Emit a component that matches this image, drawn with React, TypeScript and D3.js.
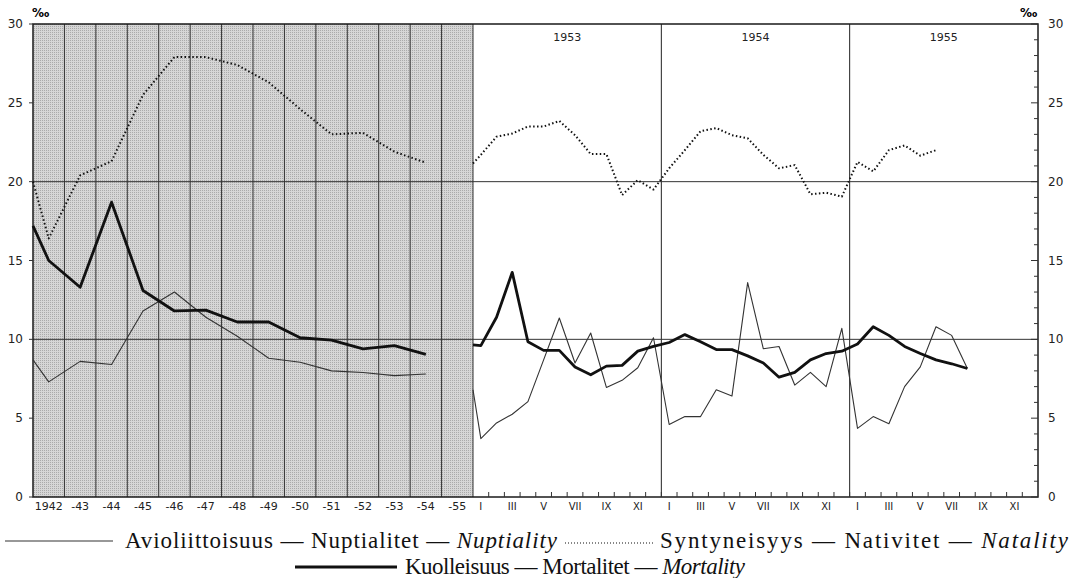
import { useEffect, useRef } from "react";
import * as d3 from "d3";

// annual panel: 1942 .. -55 (one band per year)
const yearLabels = ["1942", "-43", "-44", "-45", "-46", "-47", "-48", "-49", "-50", "-51", "-52", "-53", "-54", "-55"];
// first value of each series = where the curve leaves the left axis
const annualNuptiality = [8.7, 7.3, 8.6, 8.4, 11.8, 13.0, 11.4, 10.2, 8.8, 8.55, 8.0, 7.9, 7.7, 7.8];
const annualNatality = [20.0, 16.4, 20.4, 21.3, 25.5, 27.9, 27.9, 27.4, 26.3, 24.6, 23.0, 23.1, 21.9, 21.2];
const annualMortality = [17.2, 15.0, 13.3, 18.7, 13.1, 11.8, 11.85, 11.1, 11.1, 10.1, 9.95, 9.4, 9.6, 9.05];

// monthly panel: 1953 I .. 1955
const panelYears = ["1953", "1954", "1955"];
const monthLabels = ["I", "II", "III", "IV", "V", "VI", "VII", "VIII", "IX", "X", "XI", "XII"];
// first value = value at the panel edge
const monthlyNuptiality = [
  6.8,
  3.7, 4.7, 5.25, 6.05, 8.7, 11.35, 8.5, 10.4, 6.95, 7.4, 8.2, 10.1,
  4.6, 5.1, 5.1, 6.8, 6.4, 13.6, 9.4, 9.55, 7.1, 7.9, 7.0, 10.7,
  4.35, 5.1, 4.65, 7.0, 8.25, 10.8, 10.25, 8.15,
];
const monthlyNatality = [
  21.15,
  21.7, 22.85, 23.05, 23.5, 23.5, 23.85, 22.95, 21.75, 21.75, 19.15, 20.1, 19.5,
  20.85, 22.0, 23.2, 23.4, 22.95, 22.75, 21.7, 20.85, 21.05, 19.2, 19.3, 19.05,
  21.25, 20.65, 22.0, 22.3, 21.65, 22.0,
];
const monthlyMortality = [
  9.65,
  9.6, 11.4, 14.25, 9.85, 9.3, 9.3, 8.25, 7.75, 8.3, 8.35, 9.25, 9.55,
  9.8, 10.3, 9.85, 9.35, 9.35, 8.95, 8.5, 7.6, 7.9, 8.7, 9.1, 9.25,
  9.7, 10.8, 10.25, 9.55, 9.1, 8.7, 8.45, 8.15,
];

const yTicks = [0, 5, 10, 15, 20, 25, 30];

const App = () => {
  const ref = useRef<SVGSVGElement>(null);
  const width = 1074;
  const height = 578;
  const left = 33;
  const split = 473;
  const right = 1038;
  const top = 24;
  const bottom = 497;

  useEffect(() => {
    const svg = d3.select(ref.current);
    svg.selectAll("*").remove();

    const y = d3.scaleLinear().domain([0, 30]).range([bottom, top]);
    const xYear = d3.scaleLinear().domain([0, yearLabels.length]).range([left, split]);
    const xMonth = d3.scaleLinear().domain([0, panelYears.length * 12]).range([split, right]);

    const defs = svg.append("defs");
    const pat = defs
      .append("pattern")
      .attr("id", "halftone")
      .attr("width", 2)
      .attr("height", 2)
      .attr("patternUnits", "userSpaceOnUse");
    pat.append("rect").attr("width", 2).attr("height", 2).attr("fill", "#d6d6d6");
    pat.append("rect").attr("width", 1).attr("height", 1).attr("fill", "#aaaaaa");

    svg.append("rect").attr("width", width).attr("height", height).attr("fill", "#fff");

    // shaded annual panel
    svg
      .append("rect")
      .attr("x", left)
      .attr("y", top)
      .attr("width", split - left)
      .attr("height", bottom - top)
      .attr("fill", "url(#halftone)");

    // year separators in annual panel
    svg
      .selectAll("yearLine")
      .data(d3.range(1, yearLabels.length + 1))
      .enter()
      .append("line")
      .attr("x1", (d) => xYear(d))
      .attr("x2", (d) => xYear(d))
      .attr("y1", top)
      .attr("y2", bottom)
      .attr("stroke", "#333")
      .attr("stroke-width", 1);

    // year separators in monthly panel
    svg
      .selectAll("panelLine")
      .data([12, 24])
      .enter()
      .append("line")
      .attr("x1", (d) => xMonth(d))
      .attr("x2", (d) => xMonth(d))
      .attr("y1", top)
      .attr("y2", bottom)
      .attr("stroke", "#222")
      .attr("stroke-width", 1);

    // horizontal reference lines
    svg
      .selectAll("hLine")
      .data([10, 20])
      .enter()
      .append("line")
      .attr("x1", left)
      .attr("x2", right)
      .attr("y1", (d) => y(d))
      .attr("y2", (d) => y(d))
      .attr("stroke", "#333")
      .attr("stroke-width", 1);

    // frame
    svg
      .append("rect")
      .attr("x", left)
      .attr("y", top)
      .attr("width", right - left)
      .attr("height", bottom - top)
      .attr("fill", "none")
      .attr("stroke", "#1a1a1a")
      .attr("stroke-width", 1.5);

    const axisFont = "'DejaVu Sans', sans-serif";

    // left axis
    svg
      .selectAll("lTick")
      .data(yTicks)
      .enter()
      .append("line")
      .attr("x1", left - 4)
      .attr("x2", left)
      .attr("y1", (d) => y(d))
      .attr("y2", (d) => y(d))
      .attr("stroke", "#333");
    svg
      .selectAll("lLabel")
      .data(yTicks)
      .enter()
      .append("text")
      .attr("x", 23)
      .attr("y", (d) => y(d) + 4)
      .attr("text-anchor", "end")
      .style("font-family", axisFont)
      .style("font-size", "12px")
      .attr("fill", "#222")
      .text((d) => d);

    // right axis, minor ticks every unit
    svg
      .selectAll("rTick")
      .data(d3.range(0, 31))
      .enter()
      .append("line")
      .attr("x1", (d) => (d % 5 === 0 ? right - 7 : right - 4))
      .attr("x2", right)
      .attr("y1", (d) => y(d))
      .attr("y2", (d) => y(d))
      .attr("stroke", "#333");
    svg
      .selectAll("rLabel")
      .data(yTicks)
      .enter()
      .append("text")
      .attr("x", 1048)
      .attr("y", (d) => y(d) + 4)
      .style("font-family", axisFont)
      .style("font-size", "12px")
      .attr("fill", "#222")
      .text((d) => d);

    // per mille signs
    svg
      .append("text")
      .attr("x", 32)
      .attr("y", 17)
      .style("font-family", axisFont)
      .style("font-size", "12px")
      .style("font-weight", "bold")
      .text("‰");
    svg
      .append("text")
      .attr("x", 1020)
      .attr("y", 17)
      .style("font-family", axisFont)
      .style("font-size", "12px")
      .style("font-weight", "bold")
      .text("‰");

    // year labels under annual panel
    svg
      .selectAll("yLabel")
      .data(yearLabels)
      .enter()
      .append("text")
      .attr("x", (d, i) => xYear(i + 0.5))
      .attr("y", 510)
      .attr("text-anchor", "middle")
      .style("font-family", axisFont)
      .style("font-size", "11px")
      .attr("fill", "#222")
      .text((d) => d);

    // month ticks and labels
    svg
      .selectAll("mTick")
      .data(d3.range(1, panelYears.length * 12))
      .enter()
      .append("line")
      .attr("x1", (d) => xMonth(d))
      .attr("x2", (d) => xMonth(d))
      .attr("y1", bottom)
      .attr("y2", bottom - 5)
      .attr("stroke", "#333");
    const months = d3.range(panelYears.length * 12).filter((i) => i % 2 === 0);
    svg
      .selectAll("mLabel")
      .data(months)
      .enter()
      .append("text")
      .attr("x", (d) => xMonth(d + 0.5))
      .attr("y", 510)
      .attr("text-anchor", "middle")
      .style("font-family", axisFont)
      .style("font-size", "10px")
      .attr("fill", "#222")
      .text((d) => monthLabels[d % 12]);

    // panel year titles
    svg
      .selectAll("pTitle")
      .data(panelYears)
      .enter()
      .append("text")
      .attr("x", (d, i) => xMonth(i * 12 + 6))
      .attr("y", 41)
      .attr("text-anchor", "middle")
      .style("font-family", axisFont)
      .style("font-size", "11px")
      .attr("fill", "#222")
      .text((d) => d);

    const styles = {
      nuptiality: { stroke: "#333", width: 1.1, dash: null },
      natality: { stroke: "#111", width: 2, dash: "1.5 2.4" },
      mortality: { stroke: "#111", width: 2.8, dash: null },
    };

    const drawSeries = (values, xScale, style) => {
      const pts = values.map((v, i) => [xScale(i === 0 ? 0 : i - 0.5), y(v)]);
      svg
        .append("path")
        .attr("d", d3.line()(pts))
        .attr("fill", "none")
        .attr("stroke", style.stroke)
        .attr("stroke-width", style.width)
        .attr("stroke-linejoin", "round")
        .attr("stroke-dasharray", style.dash);
    };

    drawSeries(annualNuptiality, xYear, styles.nuptiality);
    drawSeries(annualNatality, xYear, styles.natality);
    drawSeries(annualMortality, xYear, styles.mortality);
    drawSeries(monthlyNuptiality, xMonth, styles.nuptiality);
    drawSeries(monthlyNatality, xMonth, styles.natality);
    drawSeries(monthlyMortality, xMonth, styles.mortality);

    // legend
    const legendFont = "'Liberation Serif', serif";
    const legend = [
      { x0: 5, x1: 113, ly: 541, tx: 125, tw: 432, ty: 548, style: "nuptiality", parts: ["Avioliittoisuus — Nuptialitet — ", "Nuptiality"] },
      { x0: 565, x1: 655, ly: 543, tx: 660, tw: 408, ty: 548, style: "natality", parts: ["Syntyneisyys — Nativitet — ", "Natality"] },
      { x0: 295, x1: 397, ly: 567, tx: 405, tw: 340, ty: 574, style: "mortality", parts: ["Kuolleisuus — Mortalitet — ", "Mortality"] },
    ];
    legend.forEach((l) => {
      const st = styles[l.style];
      svg
        .append("line")
        .attr("x1", l.x0)
        .attr("x2", l.x1)
        .attr("y1", l.ly)
        .attr("y2", l.ly)
        .attr("stroke", st.stroke)
        .attr("stroke-width", l.style === "natality" ? 1.2 : st.width)
        .attr("stroke-dasharray", l.style === "natality" ? "1 2" : null);
      const t = svg
        .append("text")
        .attr("x", l.tx)
        .attr("y", l.ty)
        .attr("textLength", l.tw)
        .attr("lengthAdjust", "spacing")
        .style("font-family", legendFont)
        .style("font-size", "23px")
        .attr("fill", "#111")
        .attr("xml:space", "preserve");
      t.append("tspan").text(l.parts[0]);
      t.append("tspan").style("font-style", "italic").text(l.parts[1]);
    });
  }, []);

  return (
    <svg
      ref={ref}
      width={width}
      height={height}
      style={{ position: "absolute", left: 0, top: 0, display: "block" }}
    />
  );
};

export default App;
